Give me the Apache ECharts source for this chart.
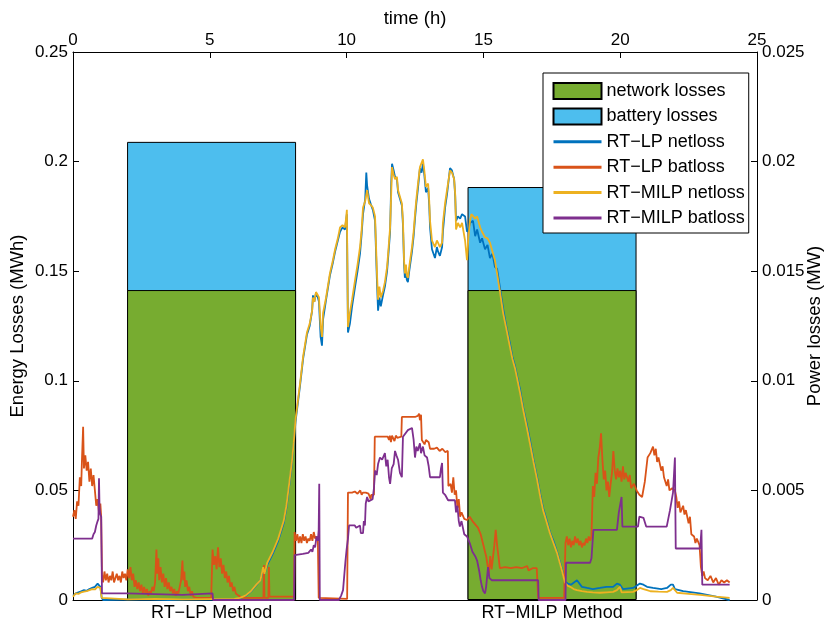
<!DOCTYPE html>
<html>
<head>
<meta charset="utf-8">
<script src="https://cdn.jsdelivr.net/npm/echarts@6/dist/echarts.min.js"></script>
<style>html,body{margin:0;padding:0;background:#fff;}#c{width:830px;height:621px;}</style>
</head>
<body>
<div id="c"></div>
<script>
// ---- data ----
const methods = ['RT\u2212LP Method', 'RT\u2212MILP Method'];
const methodPos = [1, 2];
const networkLosses = [0.1414, 0.1414];   // MWh
const batteryLosses = [0.0676, 0.0470];   // MWh (stacked on top)
const leftTicks = [0, 0.05, 0.1, 0.15, 0.2, 0.25];
const rightTicks = [0, 0.005, 0.01, 0.015, 0.02, 0.025];
const timeTicks = [0, 5, 10, 15, 20, 25];

// [time (h), power loss (MW)]
const lpNetloss = [[0,0.0002],[0.1,0.0003],[0.2,0.00035],[0.3,0.0004],[0.4,0.00045],[0.5,0.00042],[0.6,0.0005],[0.7,0.00055],[0.8,0.0006],[0.9,0.00075],[0.95,0.0007],[1.0,0.0006],[1.05,0.0001],[1.1,0.0],[2.5,0.00003],[3.5,0.0],[4.5,0.00003],[6.0,0.00002],[6.1,0.00008],[6.3,0.00018],[6.5,0.00038],[6.7,0.00068],[6.85,0.0009],[6.95,0.0014],[7.0,0.0012],[7.1,0.0016],[7.3,0.0021],[7.5,0.0027],[7.7,0.0035],[7.8,0.0042],[7.9,0.0052],[8.0,0.0062],[8.07,0.0071],[8.13,0.0081],[8.19,0.0087],[8.3,0.0098],[8.41,0.011],[8.55,0.0121],[8.65,0.0125],[8.74,0.0132],[8.77,0.0139],[8.82,0.0136],[8.88,0.014],[8.95,0.0138],[8.99,0.0136],[9.05,0.012],[9.1,0.0116],[9.14,0.0128],[9.25,0.0137],[9.39,0.0148],[9.5,0.0154],[9.58,0.0159],[9.68,0.0164],[9.76,0.0168],[9.85,0.017],[9.94,0.0169],[9.98,0.0173],[10.01,0.0176],[10.05,0.0122],[10.12,0.0126],[10.2,0.0134],[10.31,0.0143],[10.4,0.015],[10.49,0.0158],[10.55,0.0167],[10.6,0.0176],[10.68,0.0183],[10.72,0.0195],[10.75,0.0189],[10.82,0.0183],[10.9,0.018],[10.96,0.0178],[11.04,0.0173],[11.11,0.0145],[11.15,0.0132],[11.2,0.0138],[11.25,0.0134],[11.33,0.0139],[11.4,0.0143],[11.48,0.015],[11.53,0.0158],[11.59,0.0168],[11.63,0.019],[11.66,0.0199],[11.72,0.0196],[11.77,0.0193],[11.84,0.0192],[11.88,0.0186],[11.95,0.0183],[12.02,0.018],[12.06,0.0171],[12.1,0.0153],[12.13,0.0147],[12.17,0.0151],[12.2,0.0146],[12.24,0.0145],[12.3,0.0151],[12.39,0.0159],[12.45,0.0166],[12.5,0.0174],[12.55,0.0181],[12.61,0.0188],[12.68,0.0197],[12.74,0.0195],[12.79,0.0199],[12.84,0.0194],[12.9,0.0186],[12.98,0.0188],[13.02,0.018],[13.05,0.017],[13.12,0.016],[13.23,0.0156],[13.3,0.0161],[13.34,0.0159],[13.41,0.0157],[13.49,0.0161],[13.52,0.0168],[13.6,0.0179],[13.67,0.0185],[13.78,0.0197],[13.85,0.0196],[13.93,0.0192],[13.97,0.0184],[14.0,0.0173],[14.07,0.0175],[14.15,0.0174],[14.22,0.0176],[14.33,0.0175],[14.4,0.0168],[14.45,0.0169],[14.51,0.0172],[14.62,0.0173],[14.7,0.0166],[14.77,0.0169],[14.88,0.0163],[14.95,0.0165],[15.06,0.016],[15.15,0.0162],[15.24,0.0156],[15.33,0.0158],[15.42,0.0152],[15.5,0.0151],[15.6,0.0143],[15.72,0.0133],[15.85,0.0124],[15.97,0.0117],[16.06,0.0111],[16.15,0.0107],[16.25,0.0101],[16.34,0.0096],[16.45,0.0088],[16.59,0.008],[16.7,0.0073],[16.83,0.0064],[16.96,0.0056],[17.08,0.0048],[17.18,0.0042],[17.3,0.0037],[17.43,0.0031],[17.56,0.0027],[17.69,0.0022],[17.78,0.0018],[17.87,0.0014],[17.98,0.00085],[18.08,0.00075],[18.2,0.0007],[18.42,0.0009],[18.6,0.0006],[18.79,0.00055],[19.0,0.0005],[19.26,0.00055],[19.5,0.0006],[19.74,0.0006],[19.88,0.00075],[19.99,0.0007],[20.1,0.0005],[20.47,0.00055],[20.6,0.00065],[20.72,0.00075],[20.85,0.0007],[20.98,0.0006],[21.2,0.00055],[21.5,0.0005],[21.71,0.00055],[21.85,0.0007],[21.93,0.0007],[22.0,0.0005],[22.3,0.0004],[22.9,0.0003],[23.5,0.00015],[24.0,0.0]];

const lpBatloss = [[0,0.0038],[0.05,0.0041],[0.1,0.0037],[0.15,0.0045],[0.2,0.0043],[0.25,0.0056],[0.3,0.0052],[0.33,0.0065],[0.37,0.0079],[0.4,0.006],[0.45,0.0066],[0.5,0.0059],[0.55,0.0063],[0.6,0.0054],[0.65,0.006],[0.7,0.0052],[0.75,0.0057],[0.8,0.005],[0.85,0.0043],[0.9,0.0046],[0.95,0.004],[1.0,0.0044],[1.03,0.0038],[1.06,0.0011],[1.1,0.0008],[1.15,0.0013],[1.2,0.0009],[1.25,0.0012],[1.3,0.0008],[1.35,0.0011],[1.4,0.0009],[1.45,0.0013],[1.5,0.0008],[1.55,0.001],[1.6,0.0012],[1.65,0.0009],[1.7,0.0011],[1.75,0.0008],[1.8,0.0013],[1.85,0.001],[1.9,0.0012],[1.95,0.0009],[2.0,0.0014],[2.05,0.001],[2.1,0.0015],[2.15,0.0009],[2.2,0.0012],[2.25,0.0006],[2.3,0.0009],[2.35,0.0005],[2.4,0.0008],[2.45,0.0004],[2.5,0.0007],[2.55,0.0003],[2.6,0.0006],[2.65,0.0003],[2.7,0.0005],[2.75,0.0002],[2.8,0.0004],[2.85,0.0003],[2.9,0.0006],[2.95,0.0004],[3.0,0.0008],[3.05,0.0023],[3.08,0.0012],[3.12,0.0019],[3.15,0.0009],[3.2,0.0015],[3.25,0.0008],[3.3,0.0012],[3.35,0.0006],[3.4,0.001],[3.45,0.0005],[3.5,0.0008],[3.55,0.0004],[3.6,0.0006],[3.65,0.0003],[3.7,0.0005],[3.75,0.0002],[3.8,0.0004],[3.85,0.0003],[3.9,0.0006],[3.95,0.0009],[4.0,0.0018],[4.03,0.0009],[4.07,0.0013],[4.1,0.0006],[4.15,0.0009],[4.2,0.0004],[4.25,0.0006],[4.3,0.0002],[4.35,0.0004],[4.4,0.00015],[4.5,0.0001],[5.05,0.0001],[5.1,0.0023],[5.15,0.0016],[5.2,0.002],[5.25,0.0014],[5.3,0.0024],[5.35,0.0015],[5.4,0.0019],[5.45,0.0012],[5.5,0.0016],[5.55,0.001],[5.6,0.0013],[5.65,0.0008],[5.7,0.0011],[5.75,0.0006],[5.8,0.0008],[5.85,0.0004],[5.9,0.0006],[5.95,0.0003],[6.05,0.0002],[6.2,0.0001],[6.96,0.0001],[6.98,0.0016],[7.0,0.0001],[7.14,0.0001],[7.16,0.0015],[7.18,0.00015],[8.08,0.00015],[8.1,0.0031],[8.15,0.0027],[8.2,0.003],[8.25,0.0026],[8.3,0.0029],[8.35,0.0026],[8.4,0.003],[8.45,0.0027],[8.5,0.0029],[8.55,0.0026],[8.6,0.0028],[8.65,0.0027],[8.7,0.003],[8.75,0.0027],[8.8,0.0031],[8.85,0.0028],[8.9,0.0029],[8.95,0.0027],[8.98,0.0001],[9.0,0.00005],[10.02,0.00005],[10.05,0.0049],[10.2,0.0049],[10.3,0.00495],[10.4,0.00485],[10.5,0.005],[10.55,0.0048],[10.6,0.0049],[10.7,0.0049],[10.8,0.00485],[10.85,0.0049],[10.88,0.0046],[10.9,0.0048],[11.0,0.0048],[11.03,0.00745],[11.5,0.00745],[11.55,0.0073],[11.58,0.0075],[11.62,0.0072],[11.66,0.0075],[11.7,0.00745],[11.75,0.00725],[11.8,0.0075],[11.85,0.0074],[12.0,0.00745],[12.02,0.00835],[12.5,0.00835],[12.6,0.0084],[12.65,0.0085],[12.68,0.0082],[12.72,0.00845],[12.75,0.0073],[12.8,0.00735],[12.85,0.0071],[12.9,0.0073],[13.0,0.0072],[13.05,0.0069],[13.2,0.0069],[13.3,0.00695],[13.4,0.0068],[13.5,0.0069],[13.6,0.00675],[13.7,0.0068],[13.72,0.0052],[13.8,0.0053],[13.85,0.0049],[13.9,0.0056],[13.95,0.0048],[14.0,0.005],[14.05,0.0042],[14.1,0.0046],[14.15,0.0038],[14.2,0.004],[14.3,0.0037],[14.4,0.00365],[14.5,0.0038],[14.6,0.0036],[14.8,0.0033],[14.9,0.003],[15.0,0.0025],[15.1,0.002],[15.15,0.0016],[15.2,0.0012],[15.25,0.002],[15.3,0.0014],[15.4,0.0025],[15.45,0.0032],[15.5,0.0025],[15.55,0.002],[15.6,0.00145],[15.8,0.0015],[16.0,0.00145],[16.2,0.0015],[16.4,0.00145],[16.6,0.00155],[16.65,0.00135],[16.8,0.00145],[16.95,0.00145],[17.0,0.0001],[17.95,0.0001],[18.0,0.0026],[18.05,0.0029],[18.1,0.0025],[18.15,0.0028],[18.2,0.0024],[18.25,0.0027],[18.3,0.0025],[18.35,0.0029],[18.4,0.0026],[18.45,0.0028],[18.5,0.0025],[18.55,0.0027],[18.6,0.0024],[18.65,0.0026],[18.7,0.0025],[18.75,0.0028],[18.8,0.0026],[18.85,0.0029],[18.9,0.0027],[18.95,0.0029],[19.0,0.0052],[19.05,0.0047],[19.1,0.0058],[19.15,0.0053],[19.2,0.0065],[19.25,0.0069],[19.3,0.0076],[19.35,0.0064],[19.4,0.0055],[19.45,0.0059],[19.5,0.005],[19.55,0.0054],[19.6,0.0047],[19.65,0.0053],[19.7,0.0058],[19.75,0.0068],[19.8,0.0059],[19.85,0.0055],[19.9,0.006],[19.95,0.0056],[20.0,0.0059],[20.05,0.0054],[20.1,0.0061],[20.15,0.0055],[20.2,0.0058],[20.3,0.0054],[20.35,0.0057],[20.4,0.0051],[20.5,0.0053],[20.6,0.005],[20.7,0.0048],[20.8,0.0047],[20.9,0.0054],[21.0,0.0065],[21.1,0.0067],[21.2,0.007],[21.25,0.0066],[21.3,0.0069],[21.35,0.0063],[21.4,0.0065],[21.5,0.0059],[21.55,0.0061],[21.6,0.0056],[21.7,0.0052],[21.75,0.0055],[21.8,0.005],[21.9,0.0051],[22.0,0.005],[22.05,0.0047],[22.1,0.0042],[22.15,0.0045],[22.2,0.004],[22.3,0.0043],[22.35,0.0039],[22.4,0.0041],[22.5,0.0035],[22.55,0.0038],[22.6,0.003],[22.7,0.0029],[22.75,0.0026],[22.8,0.0028],[22.9,0.0025],[22.95,0.0015],[23.0,0.0011],[23.05,0.0013],[23.1,0.001],[23.2,0.0009],[23.3,0.0011],[23.4,0.0008],[23.5,0.001],[23.6,0.0007],[23.7,0.0009],[23.8,0.0008],[23.9,0.0009],[24.0,0.0008]];

const milpNetloss = [[0,0.00015],[0.1,0.0003],[0.2,0.00028],[0.3,0.00035],[0.4,0.00038],[0.5,0.0004],[0.6,0.00045],[0.7,0.0005],[0.8,0.00048],[0.9,0.0006],[1.0,0.00055],[1.05,0.0001],[1.1,0.00003],[2.0,0.00003],[3.0,0.00005],[4.0,0.00003],[5.0,0.00004],[5.9,0.00005],[6.1,0.0001],[6.3,0.0002],[6.5,0.0004],[6.7,0.0007],[6.85,0.0009],[6.95,0.0015],[7.0,0.0012],[7.1,0.0017],[7.3,0.0022],[7.5,0.0028],[7.7,0.0036],[7.8,0.0043],[7.9,0.0053],[8.0,0.0063],[8.07,0.0072],[8.13,0.0082],[8.19,0.0088],[8.3,0.0099],[8.41,0.0111],[8.55,0.0122],[8.65,0.0126],[8.74,0.0132],[8.77,0.0138],[8.82,0.0136],[8.88,0.01405],[8.95,0.0139],[8.99,0.0138],[9.05,0.0125],[9.1,0.012],[9.14,0.0131],[9.25,0.0138],[9.39,0.0149],[9.5,0.0155],[9.58,0.016],[9.68,0.0165],[9.76,0.017],[9.85,0.0171],[9.94,0.017],[9.98,0.0174],[10.01,0.0178],[10.05,0.01245],[10.12,0.0131],[10.2,0.0137],[10.31,0.0146],[10.4,0.0153],[10.49,0.0161],[10.55,0.0169],[10.6,0.0179],[10.68,0.0182],[10.75,0.0187],[10.82,0.0181],[10.9,0.018],[10.96,0.0179],[11.04,0.0175],[11.11,0.0149],[11.15,0.0137],[11.2,0.0143],[11.25,0.0138],[11.33,0.0141],[11.4,0.0145],[11.48,0.0152],[11.53,0.016],[11.59,0.017],[11.63,0.0185],[11.66,0.01975],[11.72,0.0194],[11.77,0.0192],[11.84,0.0193],[11.88,0.0187],[11.95,0.0184],[12.02,0.0181],[12.06,0.0173],[12.1,0.0155],[12.13,0.0149],[12.17,0.0153],[12.2,0.0148],[12.24,0.0147],[12.3,0.0153],[12.39,0.0161],[12.45,0.0168],[12.5,0.0176],[12.55,0.0183],[12.61,0.019],[12.68,0.01975],[12.74,0.0198],[12.79,0.0201],[12.84,0.0196],[12.9,0.01885],[12.98,0.019],[13.02,0.0182],[13.05,0.0173],[13.12,0.0164],[13.23,0.0161],[13.3,0.0164],[13.34,0.0163],[13.41,0.0161],[13.49,0.0163],[13.52,0.0172],[13.6,0.0181],[13.67,0.0187],[13.78,0.0196],[13.85,0.0195],[13.93,0.0192],[13.97,0.0185],[14.0,0.0169],[14.07,0.0172],[14.15,0.017],[14.22,0.0172],[14.33,0.0164],[14.4,0.0155],[14.45,0.0165],[14.51,0.0173],[14.56,0.0176],[14.62,0.01765],[14.7,0.0174],[14.77,0.0175],[14.88,0.017],[14.95,0.0168],[15.06,0.01655],[15.15,0.0165],[15.24,0.0163],[15.33,0.0159],[15.42,0.0155],[15.5,0.0149],[15.6,0.0141],[15.72,0.0131],[15.85,0.0123],[15.97,0.01155],[16.06,0.011],[16.15,0.0106],[16.25,0.01],[16.34,0.00945],[16.45,0.0087],[16.59,0.00785],[16.7,0.00715],[16.83,0.0063],[16.96,0.0055],[17.08,0.0047],[17.18,0.0041],[17.3,0.0036],[17.43,0.00305],[17.56,0.0026],[17.69,0.00215],[17.78,0.00175],[17.87,0.00135],[17.98,0.0008],[18.08,0.00065],[18.17,0.0006],[18.3,0.0005],[18.42,0.00045],[18.6,0.0004],[18.79,0.00037],[19.0,0.00035],[19.26,0.00033],[19.5,0.00035],[19.74,0.00037],[19.88,0.00045],[19.99,0.0006],[20.05,0.00035],[20.47,0.00037],[20.6,0.00045],[20.72,0.00055],[20.85,0.0005],[20.98,0.00045],[21.1,0.0004],[21.4,0.00038],[21.71,0.00037],[21.85,0.00045],[21.93,0.00055],[22.0,0.0005],[22.08,0.00033],[22.5,0.00028],[22.92,0.00023],[23.5,0.00015],[24.0,0.0001]];

const milpBatloss = [[0,0.0028],[0.7,0.0028],[0.75,0.003],[0.8,0.0031],[0.85,0.0034],[0.9,0.0036],[0.93,0.0037],[0.95,0.00555],[0.97,0.0042],[1.0,0.0039],[1.03,0.0038],[1.06,0.0003],[2.0,0.0003],[2.02,0.00023],[4.0,0.00023],[4.02,0.0003],[5.1,0.0003],[5.12,0],[8.08,0],[8.1,0.00205],[8.4,0.0021],[8.6,0.00215],[8.7,0.0023],[8.75,0.0022],[8.8,0.0025],[8.85,0.0024],[8.9,0.0029],[8.95,0.0027],[8.98,0.0032],[9.0,0.0053],[9.02,0],[9.72,0],[9.8,0.0002],[9.87,0.00045],[9.92,0.0012],[9.96,0.0018],[10.0,0.0023],[10.05,0.0028],[10.09,0.0034],[10.3,0.0034],[10.35,0.0033],[10.49,0.0034],[10.52,0.00305],[10.6,0.00305],[10.63,0.0036],[10.67,0.0034],[10.7,0.0044],[10.75,0.0047],[10.8,0.0045],[10.86,0.00455],[10.95,0.0046],[11.0,0.0051],[11.04,0.0059],[11.1,0.0057],[11.15,0.0062],[11.22,0.0065],[11.3,0.0064],[11.4,0.0067],[11.45,0.0061],[11.5,0.0064],[11.55,0.0056],[11.59,0.0053],[11.65,0.006],[11.72,0.0062],[11.77,0.0068],[11.82,0.0066],[11.88,0.0064],[11.95,0.0058],[12.02,0.0056],[12.06,0.00745],[12.24,0.00775],[12.39,0.00785],[12.45,0.0073],[12.5,0.0065],[12.55,0.007],[12.6,0.0068],[12.68,0.00715],[12.72,0.0067],[12.79,0.007],[12.85,0.0066],[12.94,0.0065],[13.0,0.0061],[13.05,0.0056],[13.41,0.0056],[13.45,0.006],[13.49,0.00625],[13.52,0.0049],[13.6,0.0048],[13.71,0.00455],[13.96,0.00455],[14.0,0.004],[14.05,0.0043],[14.1,0.0036],[14.14,0.00335],[14.2,0.0036],[14.3,0.003],[14.4,0.0029],[14.5,0.0026],[14.6,0.0022],[14.7,0.002],[14.77,0.0018],[14.85,0.0013],[14.9,0.0009],[14.95,0.0006],[15.0,0.0004],[15.06,0.0003],[15.1,0.0006],[15.17,0.0015],[15.22,0.001],[15.31,0.0009],[17.0,0.0009],[17.02,0],[18.0,0],[18.02,0.0017],[18.9,0.0017],[18.95,0.0019],[19.0,0.0019],[19.02,0.0032],[19.88,0.0032],[19.95,0.004],[20.05,0.0047],[20.08,0.00335],[20.65,0.00335],[20.7,0.0038],[20.85,0.00375],[20.95,0.00335],[21.7,0.00335],[21.82,0.0041],[21.93,0.0049],[22.0,0.0065],[22.03,0.00235],[22.92,0.00235],[22.97,0.0032],[23.0,0.0007],[24.0,0.0007]];

// ---- chart ----
const chart = echarts.init(document.getElementById('c'), null, {renderer: 'canvas'});
const FONT = 'Liberation Sans, Arial, sans-serif';
const mkAxisLine = () => ({show: true, onZero: false, lineStyle: {color: '#000', width: 1}});
const mkTickIn = () => ({show: true, inside: true, length: 6, lineStyle: {color: '#000'}});
const noTick = {show: false, length: 0, lineStyle: {opacity: 0}};
const nameStyle = {color: '#000', fontSize: 18.5, fontFamily: FONT};
const lineSeries = (name, data, color) => ({
  name, type: 'line', xAxisIndex: 1, yAxisIndex: 1, data,
  showSymbol: false, symbol: 'none', lineStyle: {color, width: 1.8}, itemStyle: {color},
  animation: false
});
const lineLegend = name => ({name, itemStyle: {opacity: 0}, lineStyle: {width: 3}});
// total bar height = network + battery (battery drawn behind network => stacked look)
const totalLosses = networkLosses.map((v, i) => v + batteryLosses[i]);

chart.setOption({
  animation: false,
  textStyle: {fontFamily: FONT},
  grid: {left: 73, right: 73, top: 52, bottom: 21, show: false, containLabel: false, outerBoundsMode: 'none'},
  legend: {
    orient: 'vertical', left: 543, top: 73,
    backgroundColor: '#fff', borderColor: '#000', borderWidth: 1,
    padding: [9, 4, 6, 9], itemWidth: 48, itemHeight: 16, itemGap: 7.4,
    textStyle: {fontSize: 18, color: '#000', fontFamily: FONT, lineHeight: 16},
    data: [
      {name: 'network losses', icon: 'rect'},
      {name: 'battery losses', icon: 'rect'},
      lineLegend('RT\u2212LP netloss'), lineLegend('RT\u2212LP batloss'),
      lineLegend('RT\u2212MILP netloss'), lineLegend('RT\u2212MILP batloss')
    ]
  },
  xAxis: [
    {type: 'value', position: 'bottom', min: 0.593, max: 2.602,
     axisLine: mkAxisLine(), axisTick: noTick, minorTick: {show: false}, splitLine: {show: false},
     axisLabel: {customValues: methodPos, formatter: v => methods[methodPos.indexOf(v)] || '',
                 color: '#000', fontSize: 18, margin: 4, fontFamily: FONT}},
    {type: 'value', position: 'top', min: 0, max: 25, interval: 5,
     name: 'time (h)', nameLocation: 'middle', nameGap: 24, nameMoveOverlap: false, nameTextStyle: nameStyle,
     axisLine: mkAxisLine(), axisTick: mkTickIn(), splitLine: {show: false},
     axisLabel: {customValues: timeTicks, color: '#000', fontSize: 17, margin: 3, fontFamily: FONT}}
  ],
  yAxis: [
    {type: 'value', position: 'left', min: 0, max: 0.25, interval: 0.05,
     name: 'Energy Losses (MWh)', nameLocation: 'middle', nameGap: 46, nameRotate: 90, nameMoveOverlap: false,
     nameTextStyle: nameStyle,
     axisLine: mkAxisLine(), axisTick: mkTickIn(), splitLine: {show: false},
     axisLabel: {customValues: leftTicks, color: '#000', fontSize: 17, margin: 5, fontFamily: FONT}},
    {type: 'value', position: 'right', min: 0, max: 0.025, interval: 0.005,
     name: 'Power losses (MW)', nameLocation: 'middle', nameGap: 48, nameRotate: 90, nameMoveOverlap: false,
     nameTextStyle: nameStyle,
     axisLine: mkAxisLine(), axisTick: mkTickIn(), splitLine: {show: false},
     axisLabel: {customValues: rightTicks, color: '#000', fontSize: 17, margin: 5, fontFamily: FONT}}
  ],
  series: [
    {name: 'battery losses', type: 'bar', xAxisIndex: 0, yAxisIndex: 0, barWidth: 169, barGap: '-100%',
     data: methodPos.map((p, i) => [p, totalLosses[i]]),
     itemStyle: {color: '#4DBEEE', borderColor: '#000', borderWidth: 1}},
    {name: 'network losses', type: 'bar', xAxisIndex: 0, yAxisIndex: 0, barWidth: 169, barGap: '-100%',
     data: methodPos.map((p, i) => [p, networkLosses[i]]),
     itemStyle: {color: '#77AC30', borderColor: '#000', borderWidth: 1}},
    lineSeries('RT\u2212LP netloss', lpNetloss, '#0072BD'),
    lineSeries('RT\u2212LP batloss', lpBatloss, '#D95319'),
    lineSeries('RT\u2212MILP netloss', milpNetloss, '#EDB120'),
    lineSeries('RT\u2212MILP batloss', milpBatloss, '#7E2F8E')
  ]
});
</script>
</body>
</html>
